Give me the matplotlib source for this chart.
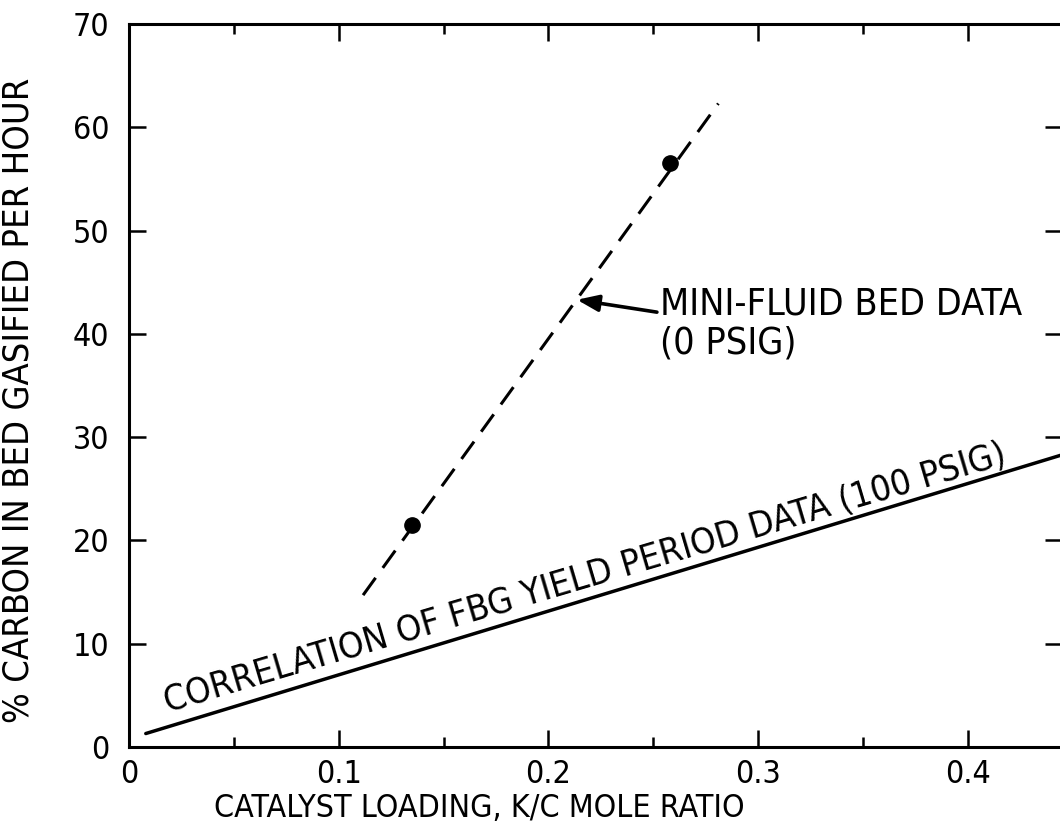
import matplotlib
matplotlib.use("Agg")
import matplotlib.pyplot as plt
from matplotlib import font_manager

# narrow lettering if available
names = {f.name for f in font_manager.fontManager.ttflist}
if 'Liberation Sans Narrow' in names:
    plt.rcParams['font.family'] = 'Liberation Sans Narrow'
else:
    plt.rcParams['font.family'] = 'DejaVu Sans'
    plt.rcParams['font.stretch'] = 'condensed'

# mini-fluid bed data (0 psig)
mini_x = [0.135, 0.258]
mini_y = [21.5, 56.5]
mini_fit_x = [0.1116, 0.281]
mini_fit_y = [14.7, 62.3]

# FBG yield period correlation (100 psig)
fbg_x = [0.008, 0.45]
fbg_y = [1.3, 28.6]

xticks = [0, 0.1, 0.2, 0.3, 0.4]
xtick_labels = ['0', '0.1', '0.2', '0.3', '0.4']
xminor = [0.05, 0.15, 0.25, 0.35]
yticks = [0, 10, 20, 30, 40, 50, 60, 70]

fig = plt.figure(figsize=(10.6, 8.36), dpi=100)
ax = fig.add_axes([0.1217, 0.1065, 0.8805, 0.8648])

ax.plot(mini_fit_x, mini_fit_y, color='black', lw=2.2, linestyle=(0, (7, 4)))
ax.plot(mini_x, mini_y, 'o', color='black', ms=11)
ax.plot(fbg_x, fbg_y, color='black', lw=2.5, solid_capstyle='round')

ax.set_xlim(0, 0.445)
ax.set_ylim(0, 70)
ax.set_xticks(xticks)
ax.set_xticklabels(xtick_labels)
ax.set_xticks(xminor, minor=True)
ax.set_yticks(yticks)

for s in ax.spines.values():
    s.set_linewidth(2.2)
ax.tick_params(which='both', direction='in', top=True, right=True, width=1.8)
ax.tick_params(which='major', length=12, labelsize=23)
ax.tick_params(which='minor', length=7)
ax.tick_params(axis='x', pad=9)
ax.tick_params(axis='y', pad=14)

ax.set_xlabel('CATALYST LOADING, K/C MOLE RATIO', fontsize=23)
ax.xaxis.set_label_coords(0.375, -0.064)
ax.set_ylabel('% CARBON IN BED GASIFIED PER HOUR', fontsize=26)
ax.yaxis.set_label_coords(-0.100, 0.48)

ax.annotate('', xy=(0.2136, 43.3), xytext=(0.2517, 42.1),
            arrowprops=dict(arrowstyle='-|>,head_length=1.3,head_width=0.5',
                            color='black', lw=2.6, shrinkA=0, shrinkB=0))
ax.text(0.2532, 44.6, 'MINI-FLUID BED DATA\n(0 PSIG)', fontsize=27,
        ha='left', va='top', linespacing=1.1)

ax.text(0.0186, 3.4, 'CORRELATION OF FBG YIELD PERIOD DATA (100 PSIG)',
        fontsize=26, rotation=16.5, rotation_mode='anchor',
        ha='left', va='baseline')

fig.savefig('out.png', dpi=100)
